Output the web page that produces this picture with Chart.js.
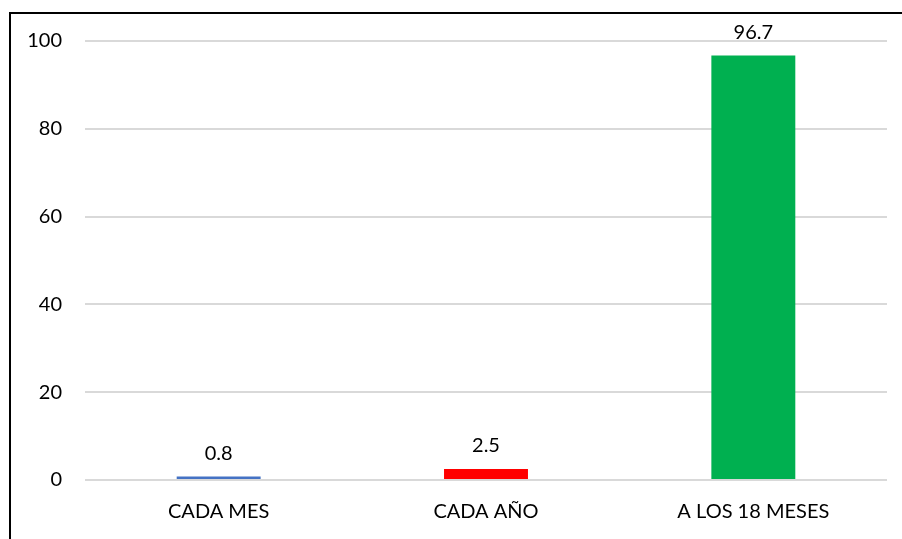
<!DOCTYPE html>
<html>
<head>
<meta charset="utf-8">
<script src="https://cdn.jsdelivr.net/npm/chart.js@4"></script>
<style>
  html, body { margin: 0; padding: 0; background: #fff; }
  #wrap { position: relative; width: 902px; height: 539px; }
  canvas { display: block; }
</style>
</head>
<body>
<div id="wrap"><canvas id="c" width="902" height="539"></canvas></div>
<script>
const categories = ["CADA MES", "CADA AÑO", "A LOS 18 MESES"];
const values = [0.8, 2.5, 96.7];
const barColors = ["#4472C4", "#FF0000", "#00B050"];
const yTicks = [0, 20, 40, 60, 80, 100];

const FONT = "Lato, 'Open Sans', sans-serif";

const framePlugin = {
  id: 'frame',
  beforeDraw(chart) {
    const ctx = chart.ctx;
    ctx.save();
    ctx.fillStyle = '#fff';
    ctx.fillRect(0, 0, chart.width, chart.height);
    ctx.strokeStyle = '#000';
    ctx.lineWidth = 2;
    ctx.beginPath();
    ctx.moveTo(10, chart.height + 5);
    ctx.lineTo(10, 13);
    ctx.lineTo(chart.width + 5, 13);
    ctx.stroke();
    ctx.restore();
  }
};

const labelPlugin = {
  id: 'valueLabels',
  afterDatasetsDraw(chart) {
    const ctx = chart.ctx;
    const meta = chart.getDatasetMeta(0);
    ctx.save();
    ctx.font = "20px " + FONT;
    ctx.fillStyle = '#000';
    ctx.textAlign = 'center';
    ctx.textBaseline = 'middle';
    meta.data.forEach((bar, i) => {
      ctx.fillText(String(values[i]), bar.x, bar.y - 23);
    });
    ctx.restore();
  }
};

new Chart(document.getElementById('c'), {
  type: 'bar',
  data: {
    labels: categories,
    datasets: [{
      data: values,
      backgroundColor: barColors,
      borderWidth: 0,
      categoryPercentage: 1,
      barPercentage: 0.314
    }]
  },
  options: {
    responsive: false,
    animation: false,
    devicePixelRatio: 1,
    layout: { padding: { left: 0, right: 15, top: 41, bottom: 0 } },
    plugins: { legend: { display: false }, tooltip: { enabled: false } },
    scales: {
      x: {
        grid: { display: false, drawTicks: false },
        border: { display: false },
        ticks: { color: '#000', font: { family: FONT, size: 20 }, padding: 20, maxRotation: 0 },
        afterFit(scale) { scale.height = 59; }
      },
      y: {
        min: 0,
        max: 100,
        afterBuildTicks(scale) { scale.ticks = yTicks.map(v => ({ value: v })); },
        grid: { color: '#d9d9d9', lineWidth: 2, drawTicks: false },
        border: { display: false },
        ticks: { color: '#000', font: { family: FONT, size: 20 }, padding: 23 },
        afterFit(scale) { scale.width = 85; }
      }
    }
  },
  plugins: [framePlugin, labelPlugin]
});
</script>
</body>
</html>
